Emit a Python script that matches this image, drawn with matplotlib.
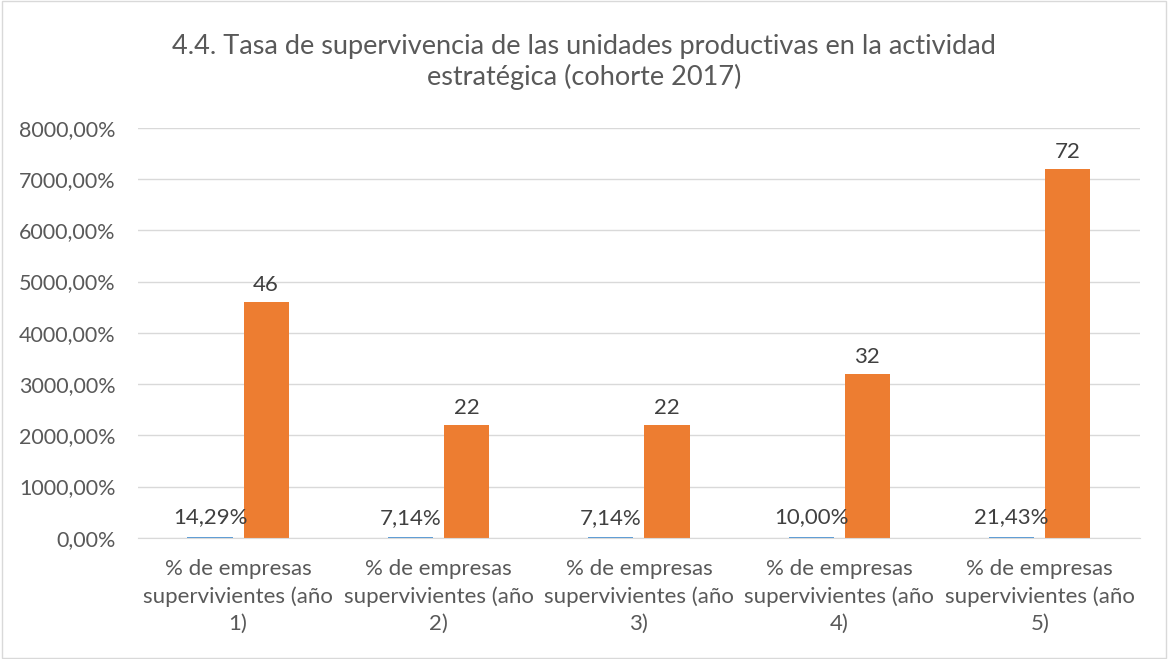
import matplotlib.pyplot as plt
import numpy as np
from matplotlib.patches import Rectangle

plt.rcParams['font.family'] = ['Lato', 'DejaVu Sans']

categorias = ['% de empresas\nsupervivientes (año\n1)', '% de empresas\nsupervivientes (año\n2)',
              '% de empresas\nsupervivientes (año\n3)', '% de empresas\nsupervivientes (año\n4)',
              '% de empresas\nsupervivientes (año\n5)']
tasa = [0.1429, 0.0714, 0.0714, 0.10, 0.2143]
empresas = [46, 22, 22, 32, 72]

gris = '#595959'
fig = plt.figure(figsize=(11.68, 6.59), dpi=100)
ax = fig.add_axes([0.118, 0.184, 0.858, 0.622])

x = np.arange(len(categorias))
w = 0.225
ax.bar(x - 0.14, tasa, w, color='#5b9bd5')
ax.bar(x + 0.14, empresas, w, color='#ed7d31')

for xi, v in zip(x, tasa):
    ax.text(xi - 0.14, v + 1.9, f'{v*100:.2f}%'.replace('.', ','), ha='center', va='bottom',
            fontsize=16, color='#404040')
for xi, v in zip(x, empresas):
    ax.text(xi + 0.14, v + 1.4, str(v), ha='center', va='bottom', fontsize=16, color='#404040')

ax.set_xlim(-0.5, 4.5)
ax.set_ylim(0, 80)
ax.set_yticks(np.arange(0, 81, 10))
ax.set_yticklabels([f'{t*100:.2f}%'.replace('.', ',') for t in range(0, 81, 10)], fontsize=15.5)
ax.set_xticks(x)
ax.set_xticklabels(categorias, linespacing=1.45, fontsize=16)
ax.tick_params(axis='both', length=0, colors=gris)
ax.tick_params(axis='x', pad=15)
ax.tick_params(axis='y', pad=16)
ax.grid(axis='y', color='#d9d9d9', linewidth=1)
ax.set_axisbelow(True)
for s in ['top', 'right', 'left']:
    ax.spines[s].set_visible(False)
ax.spines['bottom'].set_color('#d9d9d9')

fig.text(0.5, 0.906, '4.4. Tasa de supervivencia de las unidades productivas en la actividad\nestratégica (cohorte 2017)',
         ha='center', va='center', fontsize=19.5, color=gris, linespacing=1.2)

fig.patches.append(Rectangle((0.002, 0.002), 0.996, 0.996, transform=fig.transFigure,
                             fill=False, edgecolor='#d9d9d9', linewidth=1))

fig.savefig('out.png', dpi=100)
